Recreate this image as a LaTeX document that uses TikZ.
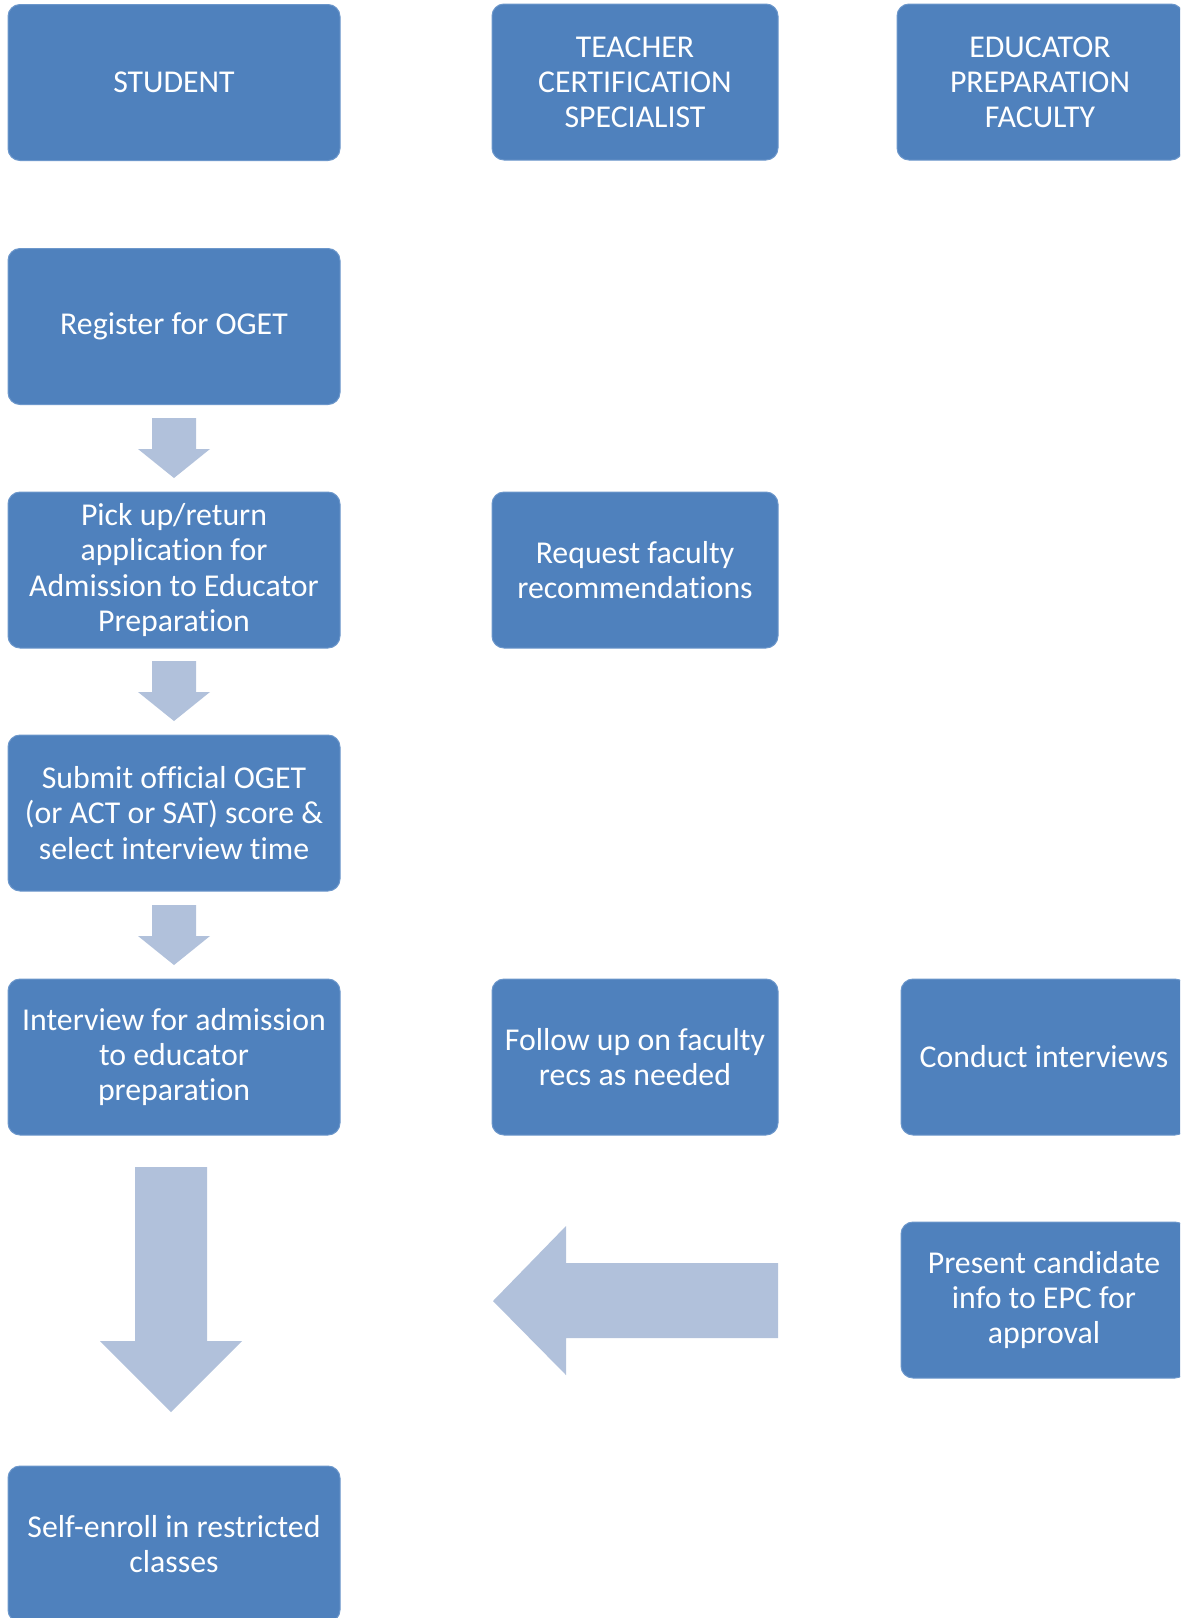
\documentclass[tikz,border=0pt]{standalone}
\usepackage{fontspec}
\setmainfont{Carlito}[Ligatures=NoCommon]
\definecolor{boxblue}{HTML}{4F81BD}
\definecolor{boxedge}{HTML}{6C97CB}
\definecolor{arrowfill}{HTML}{B1C1DB}
\tikzset{
  stepbox/.style={rectangle, rounded corners=6pt, fill=boxblue, draw=boxedge, line width=0.5pt,
    text=white, align=center, inner sep=0pt, minimum height=78pt,
    font=\fontsize{15.9}{17.6}\selectfont},
  wide/.style={stepbox, minimum width=166pt},
  narrow/.style={stepbox, minimum width=143pt},
  smalldown/.pic={\fill[arrowfill] (-22,0) -- (22,0) -- (22,31) -- (36,31) -- (0,60) -- (-36,31) -- (-22,31) -- cycle;},
}
\begin{document}
\begin{tikzpicture}[x=0.5pt,y=-0.5pt]
\clip (0,0) rectangle (1180,1618);
\fill[white] (0,0) rectangle (1180,1618);
% column headers
\node[wide]   (student) at (174,82.5) {STUDENT};
\node[narrow] (tcs)     at (635,82)   {TEACHER\\CERTIFICATION\\SPECIALIST};
\node[narrow] (epf)     at (1040,82)  {EDUCATOR\\PREPARATION\\FACULTY};
% student column
\node[wide] (reg)    at (174,326.5) {Register for OGET};
\node[wide] (pick)   at (174,570)   {Pick up/return\\application for\\Admission to Educator\\Preparation};
\node[wide] (submit) at (174,813)   {Submit official OGET\\(or ACT or SAT) score \&\\select interview time};
\node[wide] (inter)  at (174,1057)  {Interview for admission\\to educator\\preparation};
\node[wide] (self)   at (174,1544)  {Self-enroll in restricted\\classes};
% specialist column
\node[narrow] (req)    at (635,570)  {Request faculty\\recommendations};
\node[narrow] (follow) at (635,1057) {Follow up on faculty\\recs as needed};
% faculty column
\node[narrow] (conduct) at (1044,1057) {Conduct interviews};
\node[narrow] (present) at (1044,1300) {Present candidate\\info to EPC for\\approval};
% small down arrows
\path (174,418) pic {smalldown};
\path (174,661) pic {smalldown};
\path (174,905) pic {smalldown};
% big down arrow
\fill[arrowfill] (135,1167) -- (207,1167) -- (207,1341) -- (242,1341) -- (171,1412) -- (100,1341) -- (135,1341) -- cycle;
% big left arrow
\fill[arrowfill] (778,1263) -- (778,1338) -- (566,1338) -- (566,1375) -- (493,1301) -- (566,1226) -- (566,1263) -- cycle;
\end{tikzpicture}
\end{document}
